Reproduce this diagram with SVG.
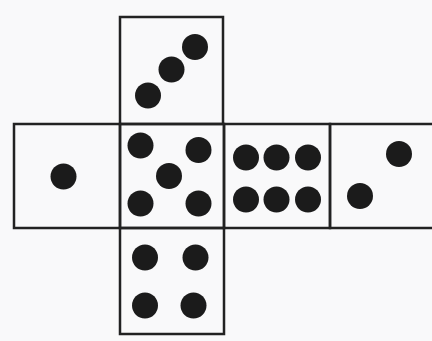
<svg xmlns="http://www.w3.org/2000/svg" width="432" height="341" viewBox="0 0 432 341">
<style>
.face{fill:none;stroke:#222;stroke-width:2.5}
.pip{fill:#1b1b1b}
</style>
<rect width="432" height="341" fill="#f9f9fa"/>
<g id="face-top">
<rect class="face" x="120" y="17" width="103" height="107"/>
<circle class="pip" cx="195" cy="47" r="13"/>
<circle class="pip" cx="171.5" cy="69.5" r="13"/>
<circle class="pip" cx="148" cy="95.5" r="13"/>
</g>
<g id="face-left">
<rect class="face" x="14" y="124" width="106" height="104"/>
<circle class="pip" cx="63.5" cy="176.5" r="13"/>
</g>
<g id="face-center">
<rect class="face" x="120" y="124" width="104" height="104"/>
<circle class="pip" cx="140.5" cy="145.5" r="13"/>
<circle class="pip" cx="198.5" cy="150" r="13"/>
<circle class="pip" cx="169" cy="176" r="13"/>
<circle class="pip" cx="140.5" cy="203.5" r="13"/>
<circle class="pip" cx="198.5" cy="203.5" r="13"/>
</g>
<g id="face-right">
<rect class="face" x="224" y="124" width="106" height="104"/>
<circle class="pip" cx="246" cy="157.5" r="13"/>
<circle class="pip" cx="276.5" cy="157.5" r="13"/>
<circle class="pip" cx="308" cy="157.5" r="13"/>
<circle class="pip" cx="246" cy="199.5" r="13"/>
<circle class="pip" cx="276.5" cy="199.5" r="13"/>
<circle class="pip" cx="308" cy="199.5" r="13"/>
</g>
<g id="face-far">
<rect class="face" x="330" y="124" width="106" height="104"/>
<circle class="pip" cx="399" cy="154" r="13"/>
<circle class="pip" cx="360" cy="196" r="13"/>
</g>
<g id="face-bottom">
<rect class="face" x="120" y="228" width="104" height="106"/>
<circle class="pip" cx="145" cy="257.5" r="13"/>
<circle class="pip" cx="195.5" cy="257.5" r="13"/>
<circle class="pip" cx="145" cy="305.5" r="13"/>
<circle class="pip" cx="193.5" cy="305.5" r="13"/>
</g>
<g id="connectors"></g>
</svg>
